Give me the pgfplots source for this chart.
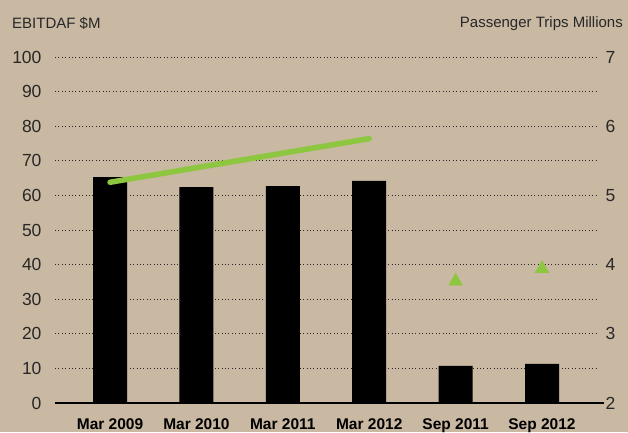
\documentclass[border=0pt]{standalone}
\usepackage{pgfplots}
\pgfplotsset{compat=1.18}
\usepackage{fontspec}
\setmainfont{Liberation Sans}
\usetikzlibrary{backgrounds}
\definecolor{bg}{RGB}{201,184,162}
\definecolor{grn}{RGB}{141,198,63}
\definecolor{txt}{RGB}{40,40,40}
\begin{document}
\begin{tikzpicture}[show background rectangle, background rectangle/.style={fill=bg,draw=none}, inner frame sep=0pt]
\path[use as bounding box] (-55pt,-29pt) rectangle (573pt,403pt);
\begin{axis}[name=main, at={(0,0)}, anchor=south west,
 scale only axis, width=541pt, height=346pt,
 xmin=-0.637, xmax=5.625, ymin=0, ymax=100,
 ytick={0,10,...,100}, xtick={0,...,5},
 xticklabels={Mar 2009, Mar 2010, Mar 2011, Mar 2012, Sep 2011, Sep 2012},
 axis line style={draw=none}, major tick length=0pt,
 ymajorgrids, grid style={black!85, line width=1pt, dash pattern=on 0.9pt off 2.5pt},
 yticklabel style={font=\fontsize{17.5}{20}\selectfont, text=txt, xshift=-10pt},
 xticklabel style={font=\fontsize{15.5}{18}\selectfont\bfseries, text=black, yshift=-12pt},
 /pgf/number format/assume math mode=true,
 ybar, bar width=34pt, clip=false,
 after end axis/.code={\draw[line width=2.2pt] (rel axis cs:0,0) -- ([xshift=8pt]rel axis cs:1,0);
   \node[anchor=base west, font=\fontsize{15}{17}\selectfont, text=txt, inner sep=0pt] at ([xshift=-43pt,yshift=29pt]rel axis cs:0,1) {EBITDAF \$M};
   \node[anchor=base east, font=\fontsize{15}{17}\selectfont, text=txt, inner sep=0pt] at ([xshift=27pt,yshift=30pt]rel axis cs:1,1) {Passenger Trips Millions};},
]
\addplot[fill=black, draw=none] coordinates {(0,65.3) (1,62.4) (2,62.7) (3,64.2) (4,10.7) (5,11.3)};
\end{axis}
\begin{axis}[at={(0,0)}, anchor=south west,
 scale only axis, width=541pt, height=346pt,
 xmin=-0.637, xmax=5.625, ymin=2, ymax=7,
 ytick={2,...,7},
 axis x line=none, axis y line*=right, y axis line style={draw=none},
 major tick length=0pt,
 yticklabel style={font=\fontsize{17.5}{20}\selectfont, text=txt, xshift=6pt},
 /pgf/number format/assume math mode=true, clip=false,
]
\addplot[grn, line width=5.5pt, line cap=round, mark=none] coordinates {(0,5.19) (1,5.40) (2,5.61) (3,5.82)};
\addplot[only marks, mark=triangle*, mark size=8pt, grn, mark options={draw=none, fill=grn}] coordinates {(4,3.76) (5,3.94)};
\end{axis}
\end{tikzpicture}
\end{document}
